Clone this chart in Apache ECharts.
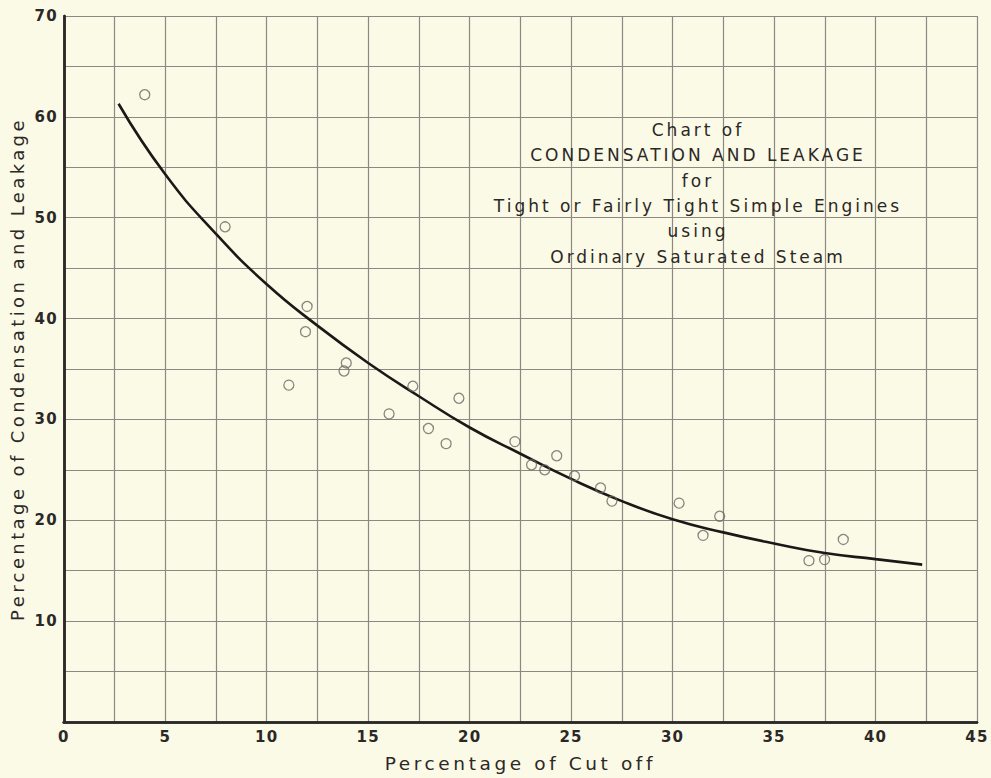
<!DOCTYPE html>
<html>
<head>
<meta charset="utf-8">
<script src="https://cdn.jsdelivr.net/npm/echarts@6/dist/echarts.min.js"></script>
<style>
  html, body { margin: 0; padding: 0; background: #fbfae6; }
  #chart { width: 991px; height: 778px; }
  #chart text { letter-spacing: 3px; }
  #chart text[style*="bold"] { letter-spacing: 1.2px; }
  #chart text[style*="18px"] { letter-spacing: 3.4px; }
  #chart text[style*="18.5px"] { letter-spacing: 3.6px; }
</style>
</head>
<body>
<div id="chart"></div>
<script>
// Observed test points (Percentage of Cut off, Percentage of Condensation and Leakage)
const cutoffPts = [3.99, 7.95, 11.09, 11.99, 11.91, 13.81, 13.92, 16.03, 17.20, 17.97, 18.84, 19.47, 22.23, 23.05, 23.70, 24.29, 25.17, 26.45, 27.01, 30.32, 31.50, 32.32, 36.72, 37.49, 38.41];
const condensPts = [62.2, 49.1, 33.4, 41.2, 38.7, 34.8, 35.6, 30.55, 33.3, 29.1, 27.6, 32.1, 27.8, 25.5, 25.0, 26.4, 24.4, 23.2, 21.9, 21.7, 18.5, 20.4, 16.0, 16.1, 18.1];

// Fitted curve
const curveX = [2.7, 5, 7.5, 10, 12.5, 15, 17.5, 20, 22.5, 25, 27.5, 30, 32.5, 35, 37.5, 40, 42.3];
const curveY = [61.3, 54.3, 48.4, 43.4, 39.3, 35.6, 32.3, 29.2, 26.6, 24.1, 21.9, 20.1, 18.8, 17.7, 16.75, 16.15, 15.6];

const xAxisTitle = 'Percentage of Cut off';
const yAxisTitle = 'Percentage of Condensation and Leakage';
const noteLines = ['Chart of', 'CONDENSATION AND LEAKAGE', 'for', 'Tight or Fairly Tight Simple Engines', 'using', 'Ordinary Saturated Steam'];

const ink = '#2b2828';
const gridColor = '#8d8982';
const fontFam = '"DejaVu Sans", sans-serif';

const chart = echarts.init(document.getElementById('chart'), null, { renderer: 'svg' });

const noteGraphics = noteLines.map((t, i) => ({
  type: 'text', x: 698, y: 130 + i * 25.3, z: 10,
  style: { text: t, align: 'center', verticalAlign: 'middle', fill: ink, font: '17px ' + fontFam }
}));

const option = {
  backgroundColor: '#fbfae6',
  animation: false,
  grid: { left: 61, right: 14, top: 16, bottom: 49 },
  xAxis: [{
    type: 'value', min: 0, max: 45, interval: 2.5,
    name: xAxisTitle, nameLocation: 'middle', nameGap: 32,
    nameTextStyle: { color: ink, fontFamily: fontFam, fontSize: 18.5 },
    axisLine: { show: true, lineStyle: { color: ink, width: 2.5 } },
    axisTick: { show: false },
    axisLabel: {
      margin: 7, color: ink, fontFamily: fontFam, fontSize: 15, fontWeight: 'bold',
      formatter: v => (v % 5 === 0 ? String(v) : '')
    },
    splitLine: { show: true, lineStyle: { color: gridColor, width: 1.2 } }
  }, {
    type: 'value', min: 0, max: 45, position: 'top',
    axisLine: { show: true, lineStyle: { color: ink, width: 2.5 } },
    axisTick: { show: false }, axisLabel: { show: false }, splitLine: { show: false }
  }],
  yAxis: [{
    type: 'value', min: 0, max: 70, interval: 5,
    name: yAxisTitle, nameLocation: 'middle', nameGap: 36,
    nameTextStyle: { color: ink, fontFamily: fontFam, fontSize: 18 },
    axisLine: { show: true, lineStyle: { color: ink, width: 2.5 } },
    axisTick: { show: false },
    axisLabel: {
      margin: 6, color: ink, fontFamily: fontFam, fontSize: 15, fontWeight: 'bold',
      formatter: v => (v % 10 === 0 && v !== 0 ? String(v) : '')
    },
    splitLine: { show: true, lineStyle: { color: gridColor, width: 1.2 } }
  }, {
    type: 'value', min: 0, max: 70, position: 'right',
    axisLine: { show: true, lineStyle: { color: ink, width: 2.5 } },
    axisTick: { show: false }, axisLabel: { show: false }, splitLine: { show: false }
  }],
  graphic: noteGraphics,
  series: [{
    type: 'line', smooth: true, showSymbol: false,
    data: curveX.map((x, i) => [x, curveY[i]]),
    lineStyle: { color: '#1c1818', width: 2.6 }, z: 3
  }, {
    type: 'scatter', symbol: 'circle', symbolSize: 10,
    data: cutoffPts.map((x, i) => [x, condensPts[i]]),
    itemStyle: { color: 'rgba(0,0,0,0)', borderColor: '#6b6866', borderWidth: 1.3 }, z: 4
  }]
};
chart.setOption(option);
</script>
</body>
</html>
